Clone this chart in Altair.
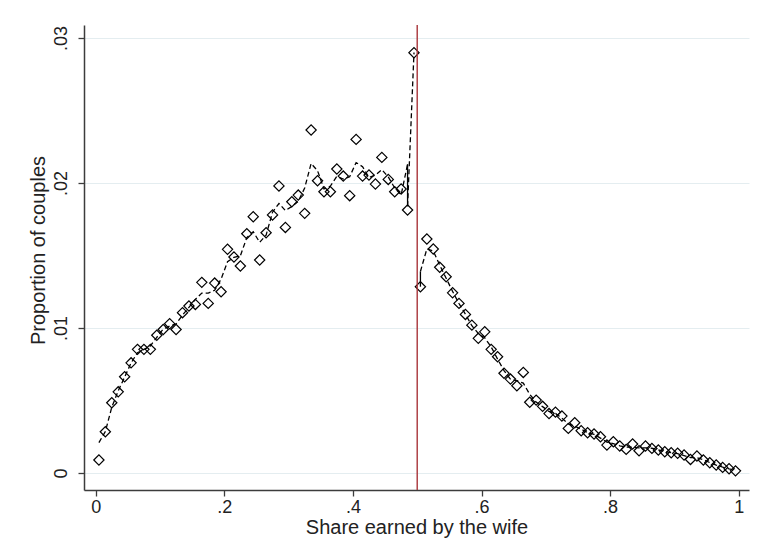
import json
import altair as alt
import pandas as pd

# ---------------- data ----------------
bin_centers = [
    0.005, 0.015, 0.025, 0.035, 0.045, 0.055, 0.065, 0.075, 0.085, 0.095,
    0.105, 0.115, 0.125, 0.135, 0.145, 0.155, 0.165, 0.175, 0.185, 0.195,
    0.205, 0.215, 0.225, 0.235, 0.245, 0.255, 0.265, 0.275, 0.285, 0.295,
    0.305, 0.315, 0.325, 0.335, 0.345, 0.355, 0.365, 0.375, 0.385, 0.395,
    0.405, 0.415, 0.425, 0.435, 0.445, 0.455, 0.465, 0.475, 0.485, 0.495,
    0.505, 0.515, 0.525, 0.535, 0.545, 0.555, 0.565, 0.575, 0.585, 0.595,
    0.605, 0.615, 0.625, 0.635, 0.645, 0.655, 0.665, 0.675, 0.685, 0.695,
    0.705, 0.715, 0.725, 0.735, 0.745, 0.755, 0.765, 0.775, 0.785, 0.795,
    0.805, 0.815, 0.825, 0.835, 0.845, 0.855, 0.865, 0.875, 0.885, 0.895,
    0.905, 0.915, 0.925, 0.935, 0.945, 0.955, 0.965, 0.975, 0.985, 0.995,
]
proportions = [
    0.0009, 0.00285, 0.00485, 0.0056, 0.00664, 0.0076, 0.00853, 0.00853, 0.00853, 0.0095,
    0.0099, 0.0103, 0.0099, 0.01106, 0.01152, 0.01163, 0.01315, 0.0117, 0.0131, 0.0125,
    0.01543, 0.0149, 0.01428, 0.0165, 0.01768, 0.01469, 0.01657, 0.0178, 0.0198, 0.01694,
    0.01871, 0.01917, 0.01791, 0.02366, 0.02016, 0.0194, 0.0194, 0.02097, 0.02048, 0.01913,
    0.02301, 0.02048, 0.02055, 0.01993, 0.02177, 0.02025, 0.0194, 0.01959, 0.01814, 0.02899,
    0.01285, 0.01614, 0.01545, 0.01419, 0.01354, 0.01243, 0.0117, 0.01094, 0.0102, 0.00929,
    0.00974, 0.00853, 0.00802, 0.00688, 0.00648, 0.00602, 0.00694, 0.00488, 0.00503, 0.0046,
    0.0041, 0.0042, 0.00393, 0.00308, 0.00347, 0.00292, 0.00278, 0.00269, 0.0025, 0.00193,
    0.00216, 0.00186, 0.00163, 0.002, 0.00154, 0.00186, 0.0017, 0.00159, 0.00147, 0.0014,
    0.00136, 0.00124, 0.00094, 0.00117, 0.0009, 0.00071, 0.00055, 0.00039, 0.0003, 0.00015,
]

# dashed fitted line, left of the cutoff
left_fit_x = [
    0.005, 0.015, 0.025, 0.035, 0.045, 0.055, 0.065, 0.075, 0.085, 0.095,
    0.105, 0.115, 0.125, 0.135, 0.145, 0.155, 0.165, 0.175, 0.185, 0.195,
    0.205, 0.215, 0.225, 0.235, 0.245, 0.255, 0.265, 0.275, 0.285, 0.295,
    0.305, 0.315, 0.325, 0.335, 0.345, 0.355, 0.365, 0.375, 0.385, 0.395,
    0.405, 0.415, 0.425, 0.435, 0.445, 0.455, 0.465, 0.475, 0.485,
]
left_fit_y = [
    0.0021, 0.00286, 0.00454, 0.00567, 0.00662, 0.00759, 0.0083, 0.00853, 0.00877, 0.00936,
    0.00993, 0.01013, 0.01029, 0.01089, 0.01143, 0.01198, 0.01241, 0.01241, 0.0126, 0.01338,
    0.01457, 0.01488, 0.01499, 0.01624, 0.01664, 0.01591, 0.01641, 0.01799, 0.01859, 0.0181,
    0.01838, 0.01874, 0.01966, 0.02135, 0.02085, 0.01959, 0.01979, 0.02046, 0.02027, 0.02044,
    0.02141, 0.02113, 0.02038, 0.02055, 0.02093, 0.02042, 0.01966, 0.01918, 0.0213,
]
# last dashed piece up to the cutoff (left)
left_end_x = [0.485, 0.495]
left_end_y = [0.0184, 0.029]

# dashed fitted line, right of the cutoff
right_fit_x = [
    0.505, 0.515, 0.525, 0.535, 0.545, 0.555, 0.565, 0.575, 0.585, 0.595,
    0.605, 0.615, 0.625, 0.635, 0.645, 0.655, 0.665, 0.675, 0.685, 0.695,
    0.705, 0.715, 0.725, 0.735, 0.745, 0.755, 0.765, 0.775, 0.785, 0.795,
    0.805, 0.815, 0.825, 0.835, 0.845, 0.855, 0.865, 0.875, 0.885, 0.895,
    0.905, 0.915, 0.925, 0.935, 0.945, 0.955, 0.965, 0.975, 0.985, 0.995,
]
right_fit_y = [
    0.0139, 0.01545, 0.01531, 0.01434, 0.01343, 0.01253, 0.01169, 0.01095, 0.01016, 0.00963,
    0.00933, 0.0087, 0.00786, 0.00707, 0.00647, 0.00637, 0.0062, 0.00543, 0.00489, 0.00458,
    0.00425, 0.00411, 0.00379, 0.00339, 0.00324, 0.00302, 0.00279, 0.00267, 0.00241, 0.00213,
    0.00203, 0.00188, 0.00178, 0.00179, 0.00174, 0.00174, 0.00171, 0.00159, 0.00148, 0.00141,
    0.00134, 0.0012, 0.00107, 0.00105, 0.00092, 0.00072, 0.00055, 0.00041, 0.00029, 0.0002,
]

# short solid vertical pieces of the fitted line at the cutoff edges
solid_seg_id = ["a", "a", "b", "b"]
solid_seg_x = [0.485, 0.485, 0.505, 0.505]
solid_seg_y = [0.0213, 0.0184, 0.01285, 0.0139]

cutoff = [0.5]

x_tick_values = [0, 0.2, 0.4, 0.6, 0.8, 1]
x_tick_labels = ["0", ".2", ".4", ".6", ".8", "1"]
y_tick_values = [0, 0.01, 0.02, 0.03]
y_tick_labels = ["0", ".01", ".02", ".03"]

# ---------------- tables ----------------
points_df = pd.DataFrame({"share": bin_centers, "prop": proportions})

fit_rows = []
seq = 0
for xv, yv in zip(left_fit_x, left_fit_y):
    fit_rows.append({"share": xv, "prop": yv, "piece": "left", "seq": seq}); seq += 1
for xv, yv in zip(left_end_x, left_end_y):
    fit_rows.append({"share": xv, "prop": yv, "piece": "left_end", "seq": seq}); seq += 1
for xv, yv in zip(right_fit_x, right_fit_y):
    fit_rows.append({"share": xv, "prop": yv, "piece": "right", "seq": seq}); seq += 1
fit_df = pd.DataFrame(fit_rows)

solid_df = pd.DataFrame({"seg": solid_seg_id, "share": solid_seg_x, "prop": solid_seg_y,
                         "seq": list(range(len(solid_seg_x)))})
cut_df = pd.DataFrame({"share": cutoff})

FONT = "Liberation Sans"
FS_LABEL = 18
FS_TITLE = 20
AXIS_COLOR = "#3c3c3c"
GRID_COLOR = "#e4edf0"
TEXT_COLOR = "#222222"

x_label_expr = "%s[indexof(%s, datum.value)]" % (json.dumps(x_tick_labels), json.dumps(x_tick_values))
y_label_expr = "%s[indexof(%s, datum.value)]" % (json.dumps(y_tick_labels), json.dumps(y_tick_values))

x_scale = alt.Scale(domain=[-0.0182, 1.016], nice=False, zero=False)
y_scale = alt.Scale(domain=[-0.00117, 0.0309], nice=False, zero=False)

x_axis = alt.Axis(
    values=x_tick_values, labelExpr=x_label_expr, labelAngle=0,
    labelFont=FONT, labelFontSize=FS_LABEL, labelColor=TEXT_COLOR, labelPadding=2,
    tickSize=6, tickColor=AXIS_COLOR, tickWidth=1.3,
    domainColor=AXIS_COLOR, domainWidth=1.5, grid=False,
    title="Share earned by the wife", titleFont=FONT, titleFontSize=FS_TITLE,
    titleFontWeight="normal", titleColor=TEXT_COLOR,
    titleY=27, titleBaseline="top",
)
y_axis = alt.Axis(
    values=y_tick_values, labelExpr=y_label_expr, labelAngle=270,
    labelAlign="center", labelBaseline="bottom", labelPadding=8,
    labelFont=FONT, labelFontSize=FS_LABEL, labelColor=TEXT_COLOR,
    tickSize=6, tickColor=AXIS_COLOR, tickWidth=1.3,
    domainColor=AXIS_COLOR, domainWidth=1.5,
    grid=True, gridColor=GRID_COLOR, gridWidth=1,
    title="Proportion of couples", titleFont=FONT, titleFontSize=FS_TITLE,
    titleFontWeight="normal", titleColor=TEXT_COLOR,
    titleAngle=270, titleAlign="center", titleBaseline="middle",
    titleX=-46, titleY=225,
)

base_x = alt.X("share:Q", scale=x_scale, axis=x_axis)
base_y = alt.Y("prop:Q", scale=y_scale, axis=y_axis)

rule = alt.Chart(cut_df).mark_rule(color="#a8343a", strokeWidth=1.4).encode(
    x=alt.X("share:Q", scale=x_scale)
)

points = alt.Chart(points_df).mark_point(
    shape="diamond", filled=False, size=105, strokeWidth=1.2, color="black", opacity=1
).encode(x=base_x, y=base_y)

dashed = alt.Chart(fit_df).mark_line(
    color="black", strokeWidth=1.3, strokeDash=[5, 3]
).encode(
    x=alt.X("share:Q", scale=x_scale),
    y=alt.Y("prop:Q", scale=y_scale),
    detail="piece:N", order="seq:Q",
)

solid = alt.Chart(solid_df).mark_line(color="black", strokeWidth=1.3).encode(
    x=alt.X("share:Q", scale=x_scale),
    y=alt.Y("prop:Q", scale=y_scale),
    detail="seg:N", order="seq:Q",
)

chart = alt.layer(points, rule, dashed, solid).properties(
    width=665, height=465,
    autosize=alt.AutoSizeParams(type="none"),
    padding={"left": 84, "top": 25, "right": 9, "bottom": 67},
    background="white",
).configure_view(stroke=None)

chart.save("out.html", embed_options={"renderer": "svg", "actions": False})
